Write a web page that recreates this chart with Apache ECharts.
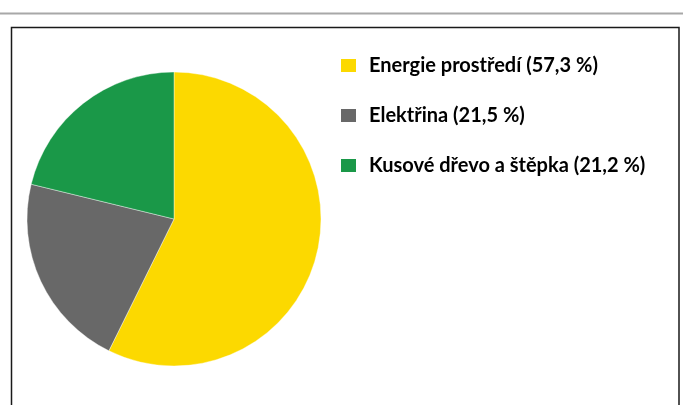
<!DOCTYPE html>
<html><head><meta charset="utf-8">
<script src="https://cdn.jsdelivr.net/npm/echarts@6/dist/echarts.min.js"></script>
<style>html,body{margin:0;padding:0;background:#fff}#c{width:683px;height:405px}</style>
</head><body><div id="c"></div>
<script>
var categories = ['Energie prostředí', 'Elektřina', 'Kusové dřevo a štěpka'];
var values = [57.3, 21.5, 21.2];
var colors = ['#FCD900', '#686868', '#1A9848'];

function fmt(v){ return v.toFixed(1).replace('.', ',') + ' %'; }
var data = categories.map(function(n,i){ return {name:n, value:values[i], itemStyle:{color:colors[i]}}; });

var chart = echarts.init(document.getElementById('c'), null, {renderer:'canvas'});
chart.setOption({
  animation:false,
  graphic:[
    {type:'line', shape:{x1:0,y1:13.5,x2:683,y2:13.5}, style:{stroke:'#a8a8a8', lineWidth:2}, z:-1},
    {type:'rect', shape:{x:11.5,y:27.5,width:667.5,height:420}, style:{fill:'none', stroke:'#1a1a1a', lineWidth:1.5}, z:-1}
  ],
  legend:{
    orient:'vertical', left:339, top:55.5, padding:0,
    itemWidth:17, itemHeight:15, itemGap:30,
    icon:'rect', selectedMode:false,
    formatter:function(name){ var i = categories.indexOf(name); return name + ' (' + fmt(values[i]) + ')'; },
    textStyle:{fontFamily:'Lato', fontWeight:'bold', fontSize:20, color:'#000', lineHeight:20, padding:[0,0,0,7]},
    data:categories
  },
  series:[{
    type:'pie', center:[174,219], radius:147, startAngle:90, clockwise:true,
    label:{show:false}, labelLine:{show:false}, silent:true,
    itemStyle:{borderColor:'#fff', borderWidth:0.4},
    data:data
  }]
});
</script></body></html>
